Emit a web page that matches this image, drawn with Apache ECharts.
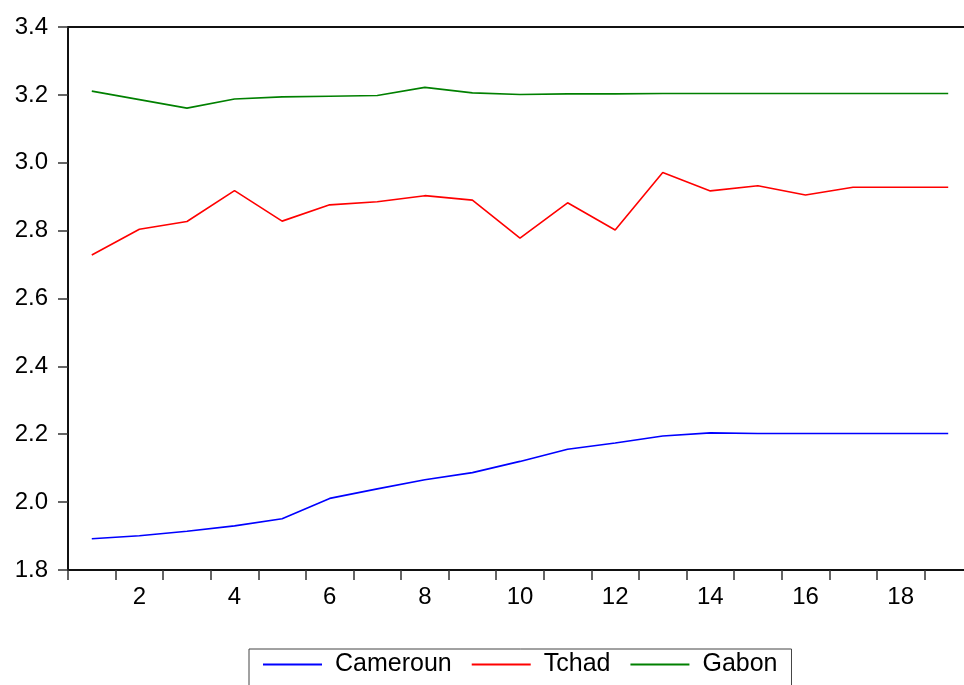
<!DOCTYPE html>
<html>
<head>
<meta charset="utf-8">
<title>Cameroun Tchad Gabon</title>
<script src="https://cdn.jsdelivr.net/npm/echarts@6/dist/echarts.min.js"></script>
<style>
  html, body { margin: 0; padding: 0; background: #fff; }
  #chart { width: 964px; height: 685px; }
</style>
</head>
<body>
<div id="chart"></div>
<script>
// periods 1..19
const periods = ['1','2','3','4','5','6','7','8','9','10','11','12','13','14','15','16','17','18','19']

// series values
const cameroun = [1.892, 1.901, 1.914, 1.930, 1.951, 2.011, 2.039, 2.066, 2.087, 2.120,
  2.156, 2.174, 2.195, 2.204, 2.202, 2.202, 2.202, 2.202, 2.202]
const tchad = [2.728, 2.804, 2.827, 2.918, 2.828, 2.876, 2.885, 2.903, 2.890, 2.778,
  2.882, 2.802, 2.971, 2.917, 2.932, 2.905, 2.928, 2.928, 2.928]
const gabon = [3.211, 3.186, 3.161, 3.188, 3.194, 3.196, 3.198, 3.222, 3.206, 3.201,
  3.203, 3.203, 3.204, 3.204, 3.204, 3.204, 3.204, 3.204, 3.204]

const yMin = 1.8
const yMax = 3.4
const yStep = 0.2

const font = 'Liberation Sans, Arial, sans-serif'
const chart = echarts.init(document.getElementById('chart'))

const line = (name, data, color) => ({
  name,
  type: 'line',
  data,
  symbol: 'none',
  lineStyle: { color, width: 1.6 },
  itemStyle: { color }
})

chart.setOption({
  animation: false,
  backgroundColor: '#fff',
  grid: {
    left: 68,
    top: 27,
    width: 904,
    bottom: 115,
    outerBoundsMode: 'none',  // plot runs past the right edge like the original
    show: true,
    borderColor: '#111',
    borderWidth: 2
  },
  legend: {
    left: 249,
    top: 649,
    padding: [3, 14, 30, 14],
    borderColor: '#444',
    borderWidth: 1,
    itemWidth: 59,
    itemHeight: 2,
    itemGap: 20,
    icon: 'rect',
    textStyle: { fontFamily: font, fontSize: 25, color: '#000', padding: [0, 0, 0, 8] },
    data: ['Cameroun', 'Tchad', 'Gabon']
  },
  xAxis: {
    type: 'category',
    data: periods,
    boundaryGap: true,
    axisLine: { show: false },
    axisTick: { show: true, interval: 0, length: 10, lineStyle: { color: '#333', width: 1.5 } },
    axisLabel: {
      interval: (idx) => idx % 2 === 1,
      margin: 15,
      fontFamily: font,
      fontSize: 24,
      color: '#000'
    },
    splitLine: { show: false }
  },
  yAxis: {
    type: 'value',
    min: yMin,
    max: yMax,
    interval: yStep,
    axisLine: { show: false },
    axisTick: { show: true, length: 10, lineStyle: { color: '#333', width: 1.5 } },
    axisLabel: {
      margin: 20,
      fontFamily: font,
      fontSize: 24,
      color: '#000',
      padding: [0, 0, 12, 0],
      formatter: (v) => v.toFixed(1)
    },
    splitLine: { show: false }
  },
  series: [
    line('Cameroun', cameroun, '#0000ff'),
    line('Tchad', tchad, '#ff0000'),
    line('Gabon', gabon, '#008000')
  ]
})
</script>
</body>
</html>
